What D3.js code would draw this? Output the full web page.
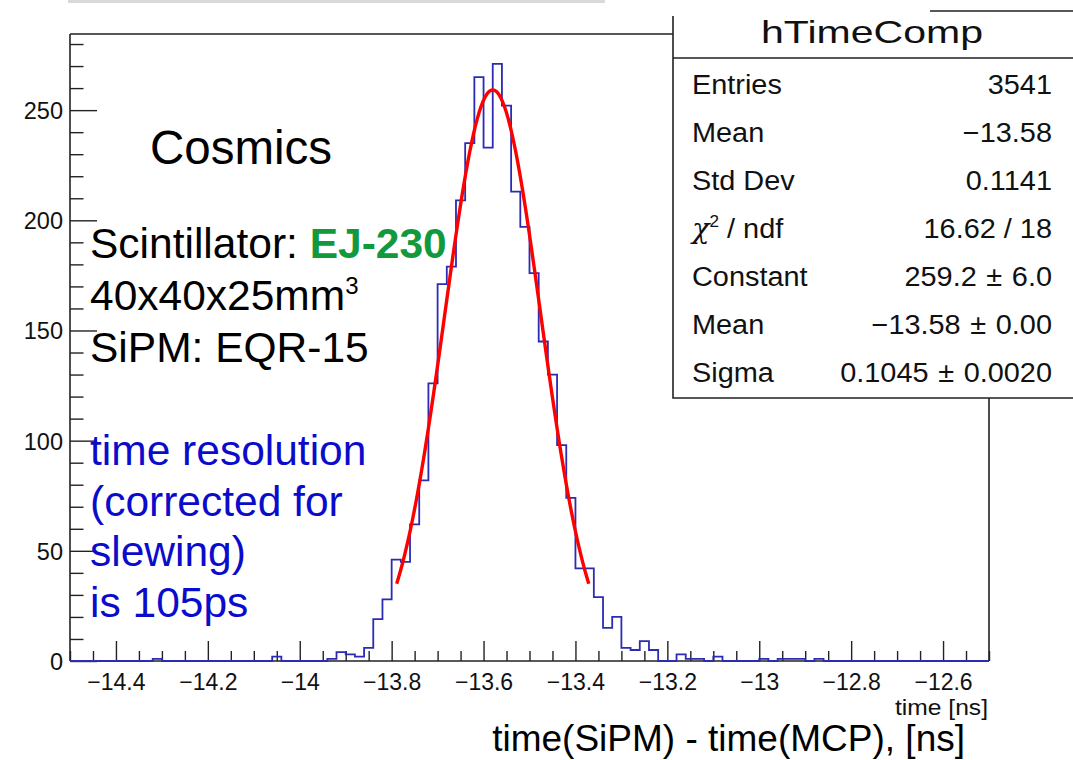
<!DOCTYPE html>
<html>
<head>
<meta charset="utf-8">
<script src="https://cdn.jsdelivr.net/npm/d3@7"></script>
<style>
  body { margin: 0; background: #fff; }
  svg { display: block; }
  text { font-family: "Liberation Sans", Arial, Helvetica, sans-serif; }
</style>
</head>
<body>
<svg id="chart" width="1073" height="760"></svg>
<script>
// Histogram binning: 100 bins of 0.02 ns between -14.5 and -12.5 ns
const binLow = -14.5;
const binHigh = -12.5;
const binCounts = [
  0, 0, 0, 0, 0, 0, 0, 0, 0, 1,
  0, 0, 0, 0, 0, 0, 0, 0, 0, 0,
  0, 0, 2, 0, 0, 0, 0, 0, 1, 4,
  3, 2, 6, 19, 28, 46, 45, 62, 82, 126,
  171, 179, 209, 235, 265, 233, 271, 252, 213, 197,
  176, 145, 130, 98, 74, 42, 42, 29, 15, 20,
  6, 5, 9, 5, 0, 0, 3, 1, 1, 0,
  2, 0, 0, 0, 0, 1, 0, 1, 1, 1,
  0, 1, 0, 0, 0, 0, 0, 0, 0, 0,
  0, 0, 0, 0, 0, 0, 0, 0, 0, 0
];

// Gaussian fit result
const fitConstant = 259.2;
const fitMean = -13.58;
const fitSigma = 0.1045;
const fitRangeSigmas = 2;

// Axis ticks
const xMajorTicks = [-14.4, -14.2, -14, -13.8, -13.6, -13.4, -13.2, -13, -12.8, -12.6];
const xMinorTicks = d3.range(0, 41).map(i => -14.5 + 0.05 * i);
const yMajorTicks = [0, 50, 100, 150, 200, 250];
const yMinorTicks = d3.range(0, 29).map(i => i * 10);

// Statistics panel
const statsTitle = "hTimeComp";
const statsLabels = ["Entries", "Mean", "Std Dev", "chi2", "Constant", "Mean", "Sigma"];
const statsValues = ["3541", "\u221213.58", "0.1141", "16.62 / 18", "259.2 \u00b1 6.0", "\u221213.58 \u00b1 0.00", "0.1045 \u00b1 0.0020"];

// Annotation text
const blackNotes = ["40x40x25mm", "SiPM: EQR-15"];
const blueNotes = ["time resolution", "(corrected for", "slewing)", "is 105ps"];

const svg = d3.select("#chart");
const frame = { left: 70, right: 989, top: 34, bottom: 661 };

const x = d3.scaleLinear().domain([binLow, binHigh]).range([frame.left, frame.right]);
const yMax = d3.max(binCounts) * 1.05;
const y = d3.scaleLinear().domain([0, yMax]).range([frame.bottom, frame.top]);

const fmt = v => String(+v.toFixed(2)).replace("-", "\u2212");

// Thin strip along the top edge
svg.append("line")
  .attr("x1", 68).attr("x2", 605).attr("y1", 1.5).attr("y2", 1.5)
  .attr("stroke", "#d9d9d9").attr("stroke-width", 3);

// Frame: top and right sides
svg.append("path")
  .attr("d", `M${frame.left},${frame.top}H${frame.right}V${frame.bottom}`)
  .attr("fill", "none").attr("stroke", "#222").attr("stroke-width", 1.6);

// X axis
const xAxisMajor = d3.axisBottom(x).tickValues(xMajorTicks).tickSize(-20).tickPadding(10)
  .tickFormat(fmt);
const gx = svg.append("g").attr("transform", `translate(0,${frame.bottom})`).call(xAxisMajor);
gx.attr("font-size", null).attr("font-family", null);
gx.select(".domain").attr("d", `M${frame.left},0H${frame.right}`).attr("stroke", "#222").attr("stroke-width", 1.6);
gx.selectAll(".tick line").attr("stroke", "#222").attr("stroke-width", 1.4);
gx.selectAll(".tick text")
  .style("font-size", "23px").style("font-family", "'Liberation Sans', Arial, sans-serif")
  .attr("fill", "#111").attr("y", 29).attr("dy", 0);

const gxMinor = svg.append("g").attr("transform", `translate(0,${frame.bottom})`)
  .call(d3.axisBottom(x).tickValues(xMinorTicks.filter(v => !xMajorTicks.some(m => Math.abs(m - v) < 1e-6)))
    .tickSize(-10).tickFormat(""));
gxMinor.select(".domain").remove();
gxMinor.selectAll(".tick line").attr("stroke", "#222").attr("stroke-width", 1.4);

// Y axis
const yAxisMajor = d3.axisLeft(y).tickValues(yMajorTicks).tickSize(-27).tickPadding(7);
const gy = svg.append("g").attr("transform", `translate(${frame.left},0)`).call(yAxisMajor);
gy.attr("font-size", null).attr("font-family", null);
gy.select(".domain").attr("d", `M0,${frame.bottom}V${frame.top}`).attr("stroke", "#222").attr("stroke-width", 1.6);
gy.selectAll(".tick line").attr("stroke", "#222").attr("stroke-width", 1.4);
gy.selectAll(".tick text")
  .style("font-size", "23.5px").style("font-family", "'Liberation Sans', Arial, sans-serif")
  .attr("fill", "#111").attr("dy", "0.36em");

const gyMinor = svg.append("g").attr("transform", `translate(${frame.left},0)`)
  .call(d3.axisLeft(y).tickValues(yMinorTicks.filter(v => v % 50 !== 0)).tickSize(-13.5).tickFormat(""));
gyMinor.select(".domain").remove();
gyMinor.selectAll(".tick line").attr("stroke", "#222").attr("stroke-width", 1.4);

// Histogram outline (steps)
const binWidth = (binHigh - binLow) / binCounts.length;
const stepPoints = [[binLow, 0]];
binCounts.forEach((c, i) => {
  stepPoints.push([binLow + i * binWidth, c]);
  stepPoints.push([binLow + (i + 1) * binWidth, c]);
});
stepPoints.push([binHigh, 0]);
svg.append("path")
  .datum(stepPoints)
  .attr("fill", "none")
  .attr("stroke", "#2b2bb3")
  .attr("stroke-width", 1.8)
  .attr("d", d3.line().x(d => x(d[0])).y(d => y(d[1])));

// Gaussian fit curve over mean +- 2 sigma
const fitLo = fitMean - fitRangeSigmas * fitSigma;
const fitHi = fitMean + fitRangeSigmas * fitSigma;
const fitPts = d3.range(0, 101).map(i => {
  const t = fitLo + (fitHi - fitLo) * i / 100;
  return [t, fitConstant * Math.exp(-0.5 * ((t - fitMean) / fitSigma) ** 2)];
});
svg.append("path")
  .datum(fitPts)
  .attr("fill", "none")
  .attr("stroke", "#ff0000")
  .attr("stroke-width", 3.4)
  .attr("stroke-linejoin", "round")
  .attr("d", d3.line().x(d => x(d[0])).y(d => y(d[1])));

// Statistics panel
const stats = svg.append("g");
stats.append("rect").attr("x", 673).attr("y", 11).attr("width", 420).attr("height", 387)
  .attr("fill", "#fff").attr("stroke", "none");
stats.append("path")
  .attr("d", "M930,11H1080 M673,16V398H1080 M673,58H1080")
  .attr("fill", "none").attr("stroke", "#222").attr("stroke-width", 1.6);
stats.append("text").attr("x", 761).attr("y", 43)
  .attr("font-size", 32).attr("fill", "#111")
  .attr("textLength", 222).attr("lengthAdjust", "spacingAndGlyphs")
  .text(statsTitle);

const statSize = 27;
const statStretch = 1.07;
statsLabels.forEach((lab, i) => {
  const by = 93.5 + i * 48.1;
  const row = stats.append("g").attr("transform", `translate(0,${by})`);
  const t = row.append("text").attr("x", 692 / statStretch).attr("y", 0)
    .attr("transform", `scale(${statStretch},1)`)
    .attr("font-size", statSize).attr("fill", "#111");
  if (lab === "chi2") {
    t.append("tspan").attr("font-family", "'DejaVu Serif', serif").attr("font-style", "italic").text("\u03c7");
    t.append("tspan").attr("font-size", 16).attr("dy", -11).text("2");
    t.append("tspan").attr("dy", 11).text(" / ndf");
  } else {
    t.text(lab);
  }
  const v = row.append("text").attr("x", 1052 / statStretch).attr("y", 0)
    .attr("transform", `scale(${statStretch},1)`)
    .attr("text-anchor", "end").attr("font-size", statSize).attr("fill", "#111");
  const parts = statsValues[i].split(" \u00b1 ");
  v.append("tspan").text(parts[0]);
  if (parts.length > 1) {
    v.append("tspan").attr("dx", 9).text("\u00b1");
    v.append("tspan").attr("dx", 9).text(parts[1]);
  }
});

// Annotations
svg.append("text").attr("x", 150).attr("y", 164).attr("font-size", 47.5).attr("fill", "#000").text("Cosmics");

const scint = svg.append("text").attr("x", 90).attr("y", 258).attr("font-size", 42.5).attr("fill", "#000");
scint.append("tspan").text("Scintillator: ");
scint.append("tspan").attr("font-weight", "bold").attr("fill", "#12993c").text("EJ-230");

const dims = svg.append("text").attr("x", 90).attr("y", 310).attr("font-size", 42.5).attr("fill", "#000");
dims.append("tspan").text(blackNotes[0]);
dims.append("tspan").attr("font-size", 24).attr("dy", -16).text("3");
svg.append("text").attr("x", 90).attr("y", 362).attr("font-size", 42.5).attr("fill", "#000").text(blackNotes[1]);

blueNotes.forEach((s, i) => {
  svg.append("text").attr("x", 90).attr("y", 465 + i * 50.5).attr("font-size", 42.5)
    .attr("fill", "#0b0bcc").text(s);
});

// Axis titles
svg.append("text").attr("x", 988 / 1.12).attr("y", 715).attr("text-anchor", "end")
  .attr("transform", "scale(1.12,1)")
  .attr("font-size", 22).attr("fill", "#111").text("time [ns]");
svg.append("text").attr("x", 965).attr("y", 751).attr("text-anchor", "end")
  .attr("font-size", 37).attr("fill", "#000").text("time(SiPM) - time(MCP), [ns]");
</script>
</body>
</html>
